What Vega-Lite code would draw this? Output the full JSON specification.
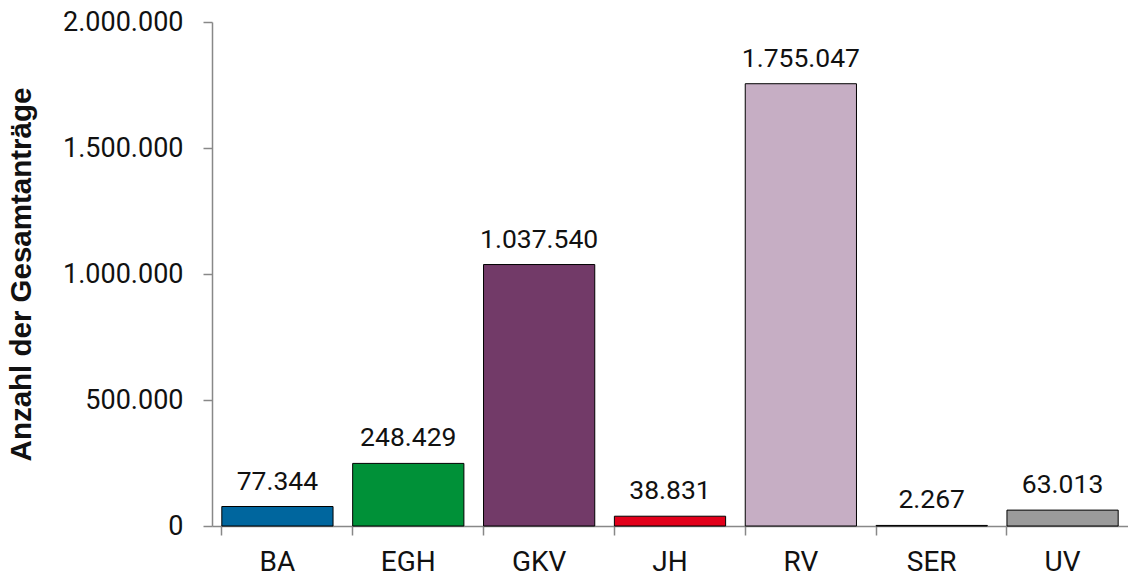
{
  "$schema": "https://vega.github.io/schema/vega-lite/v6.json",
  "width": 916,
  "height": 504,
  "autosize": {"type": "none"},
  "padding": {"left": 212, "top": 22, "right": 0, "bottom": 50},
  "background": "white",
  "config": {
    "locale": {"number": {"decimal": ",", "thousands": ".", "grouping": [3], "currency": ["", " €"]}},
    "font": "Roboto",
    "view": {"stroke": null},
    "axis": {"grid": false, "domainColor": "#888888", "tickColor": "#888888", "domainWidth": 1.5, "tickWidth": 1.5, "labelFont": "Roboto", "labelColor": "#111111"}
  },
  "data": {"values": [
    {"cat": "BA", "value": 77344},
    {"cat": "EGH", "value": 248429},
    {"cat": "GKV", "value": 1037540},
    {"cat": "JH", "value": 38831},
    {"cat": "RV", "value": 1755047},
    {"cat": "SER", "value": 2267},
    {"cat": "UV", "value": 63013}
  ]},
  "encoding": {
    "x": {"field": "cat", "type": "nominal", "sort": null, "scale": {"paddingInner": 0.15, "paddingOuter": 0.075},
      "axis": {"title": null, "labelAngle": 0, "labelFontSize": 28, "bandPosition": 0, "tickSize": 9, "labelPadding": 13}},
    "y": {"field": "value", "type": "quantitative", "scale": {"domain": [0, 2000000]},
      "axis": {"title": "Anzahl der Gesamtanträge", "titleFont": "Liberation Sans", "titleFontSize": 29.5, "titleFontWeight": "bold", "titleColor": "#111111", "labelFontSize": 27, "values": [0, 500000, 1000000, 1500000, 2000000], "format": ",d", "tickSize": 9, "labelPadding": 20, "titlePadding": 26}}
  },
  "layer": [
    {"mark": {"type": "bar", "stroke": "black", "strokeWidth": 1},
     "encoding": {"color": {"field": "cat", "type": "nominal", "legend": null,
       "scale": {"domain": ["BA", "EGH", "GKV", "JH", "RV", "SER", "UV"], "range": ["#00669E", "#009138", "#723A68", "#E2001A", "#C6AEC4", "#A0A0A0", "#9B9B9B"]}}}},
    {"mark": {"type": "text", "baseline": "alphabetic", "dy": -17, "fontSize": 26.5, "font": "Roboto", "color": "#111111"},
     "encoding": {"text": {"field": "value", "type": "quantitative", "format": ",d"}}}
  ]
}
